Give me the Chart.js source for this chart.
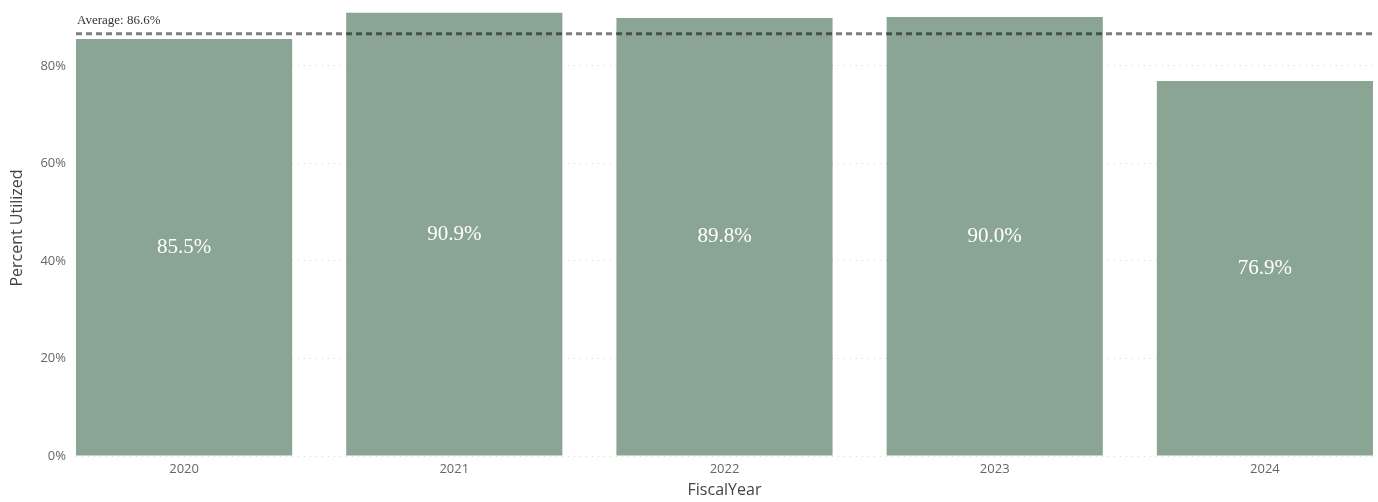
<!DOCTYPE html>
<html>
<head>
<meta charset="utf-8">
<script src="https://cdn.jsdelivr.net/npm/chart.js@4/dist/chart.umd.min.js"></script>
<style>
    html, body { margin: 0; padding: 0; background: #fff; }
    #wrap { width: 1378px; height: 502px; position: relative; }
</style>
</head>
<body>
<div id="wrap"><canvas id="chart"></canvas></div>
<script>
'use strict';

const fiscalYears = [2020, 2021, 2022, 2023, 2024];
const percentUtilized = [85.5, 90.9, 89.8, 90.0, 76.9];
const averageValue = 86.6;
const yTickValues = [0, 20, 40, 60, 80];

const BAR_COLOR = '#8aa594';
const SANS = '"Open Sans", "DejaVu Sans", sans-serif';
const SERIF = '"Liberation Serif", "DejaVu Serif", serif';

// value labels centred inside each bar
const barLabels = {
    id: 'barLabels',
    afterDatasetsDraw(chart) {
        const ctx = chart.ctx;
        const meta = chart.getDatasetMeta(0);
        ctx.save();
        ctx.font = '21px ' + SERIF;
        ctx.fillStyle = '#ffffff';
        ctx.textAlign = 'center';
        ctx.textBaseline = 'middle';
        meta.data.forEach((bar, i) => {
            const mid = (bar.y + bar.base) / 2;
            ctx.fillText(percentUtilized[i].toFixed(1) + '%', bar.x, mid);
        });
        ctx.restore();
    }
};

// dashed average line with its label
const averageLine = {
    id: 'averageLine',
    afterDatasetsDraw(chart) {
        const ctx = chart.ctx;
        const area = chart.chartArea;
        const y = chart.scales.y.getPixelForValue(averageValue);
        ctx.save();
        ctx.strokeStyle = 'rgba(0, 0, 0, 0.5)';
        ctx.lineWidth = 3;
        ctx.setLineDash([6, 4]);
        ctx.beginPath();
        ctx.moveTo(area.left, y);
        ctx.lineTo(area.right, y);
        ctx.stroke();
        ctx.setLineDash([]);
        ctx.font = '13px ' + SERIF;
        ctx.fillStyle = '#333';
        ctx.textAlign = 'left';
        ctx.textBaseline = 'bottom';
        ctx.fillText('Average: ' + averageValue.toFixed(1) + '%', area.left + 1, y - 7);
        ctx.restore();
    }
};

new Chart(document.getElementById('chart'), {
    type: 'bar',
    data: {
        datasets: [{
            data: fiscalYears.map((year, i) => ({ x: year, y: percentUtilized[i] })),
            backgroundColor: BAR_COLOR,
            borderWidth: 0,
            categoryPercentage: 0.8,
            barPercentage: 1.0
        }]
    },
    options: {
        responsive: true,
        maintainAspectRatio: false,
        animation: false,
        layout: { padding: { left: 0, right: 5, top: 0, bottom: 0 } },
        plugins: {
            legend: { display: false },
            tooltip: { enabled: false }
        },
        scales: {
            x: {
                type: 'linear',
                offset: false,
                min: fiscalYears[0] - 0.4,
                max: fiscalYears[fiscalYears.length - 1] + 0.4,
                afterBuildTicks: (scale) => {
                    scale.ticks = fiscalYears.map((v) => ({ value: v }));
                },
                afterFit: (scale) => {
                    scale.height = 46;
                    scale.paddingLeft = 0;
                    scale.paddingRight = 0;
                },
                grid: { display: false, drawTicks: false },
                border: { display: false },
                ticks: {
                    padding: 5,
                    color: '#666',
                    font: { family: SANS, size: 13 },
                    callback: (v) => String(v)
                },
                title: {
                    display: true,
                    text: 'FiscalYear',
                    color: '#444',
                    font: { family: SANS, size: 16 },
                    padding: { top: 0, bottom: 2 }
                }
            },
            y: {
                min: 0,
                max: 93.5,
                afterBuildTicks: (scale) => {
                    scale.ticks = yTickValues.map((v) => ({ value: v }));
                },
                afterFit: (scale) => {
                    scale.width = 76;
                    scale.paddingTop = 0;
                    scale.paddingBottom = 0;
                },
                grid: {
                    color: '#d8d8d8',
                    lineWidth: 1,
                    drawTicks: false
                },
                border: { display: false, dash: [1, 5] },
                ticks: {
                    padding: 10,
                    color: '#666',
                    font: { family: SANS, size: 13 },
                    callback: (v) => v + '%'
                },
                title: {
                    display: true,
                    text: 'Percent Utilized',
                    color: '#444',
                    font: { family: SANS, size: 16 },
                    padding: { top: 8, bottom: 0 }
                }
            }
        }
    },
    plugins: [barLabels, averageLine]
});
</script>
</body>
</html>
